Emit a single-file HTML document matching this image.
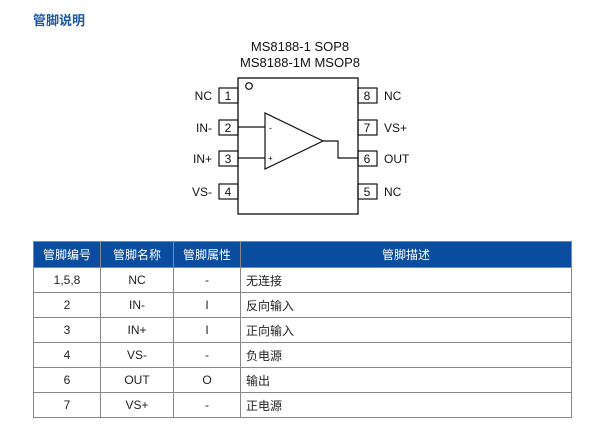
<!DOCTYPE html>
<html><head><meta charset="utf-8"><style>
body{margin:0;width:600px;height:435px;background:#fff;font-family:"Liberation Sans","Noto Sans CJK SC",sans-serif;position:relative;overflow:hidden}
.t{position:absolute;left:33px;top:10px;color:#1a56a8;font-weight:bold;font-size:13px}
table{position:absolute;left:33px;top:241px;border-collapse:collapse;font-size:12px;color:#222}
td,th{border:1px solid #888;height:24px;padding:0;text-align:center}
th{background:#0a4c9e;color:#fff;font-weight:normal;height:25px;border-color:#888}
td.l{text-align:left;padding-left:5px}
</style></head><body>
<div class="t">管脚说明</div>
<svg width="600" height="235" style="position:absolute;left:0;top:0" font-family="Liberation Sans, sans-serif" font-size="12" fill="#111">
<text x="300" y="51" text-anchor="middle" font-size="13">MS8188-1 SOP8</text>
<text x="300" y="67" text-anchor="middle" font-size="13">MS8188-1M MSOP8</text>
<rect x="238" y="78" width="120" height="136" fill="none" stroke="#111" stroke-width="1.3"/>
<circle cx="249" cy="86" r="3.3" fill="none" stroke="#111" stroke-width="1.2"/>
<g fill="none" stroke="#111" stroke-width="1.2">
<rect x="219" y="88" width="19" height="15"/><rect x="219" y="120" width="19" height="15"/><rect x="219" y="151" width="19" height="15"/><rect x="219" y="184" width="19" height="15"/>
<rect x="358" y="88" width="19" height="15"/><rect x="358" y="120" width="19" height="15"/><rect x="358" y="151" width="19" height="15"/><rect x="358" y="184" width="19" height="15"/>
<polygon points="265,113 265,169 323,141"/>
<polyline points="238,127 265,127"/><polyline points="238,158 265,158"/>
<polyline points="323,141 338,141 338,158 358,158"/>
</g>
<text x="269" y="131" font-size="9">-</text><text x="268" y="161" font-size="8">+</text>
<g text-anchor="middle"><text x="228" y="100">1</text><text x="228" y="132">2</text><text x="228" y="163">3</text><text x="228" y="196">4</text>
<text x="367" y="100">8</text><text x="367" y="132">7</text><text x="367" y="163">6</text><text x="367" y="196">5</text></g>
<g text-anchor="end"><text x="212" y="100">NC</text><text x="212" y="132">IN-</text><text x="212" y="163">IN+</text><text x="212" y="196">VS-</text></g>
<text x="384" y="100">NC</text><text x="384" y="132">VS+</text><text x="384" y="163">OUT</text><text x="384" y="196">NC</text>
</svg>
<table>
<tr><th style="width:66px">管脚编号</th><th style="width:72px">管脚名称</th><th style="width:66px">管脚属性</th><th style="width:330px">管脚描述</th></tr>
<tr><td>1,5,8</td><td>NC</td><td>-</td><td class="l">无连接</td></tr>
<tr><td>2</td><td>IN-</td><td>I</td><td class="l">反向输入</td></tr>
<tr><td>3</td><td>IN+</td><td>I</td><td class="l">正向输入</td></tr>
<tr><td>4</td><td>VS-</td><td>-</td><td class="l">负电源</td></tr>
<tr><td>6</td><td>OUT</td><td>O</td><td class="l">输出</td></tr>
<tr><td>7</td><td>VS+</td><td>-</td><td class="l">正电源</td></tr>
</table>
</body></html>
